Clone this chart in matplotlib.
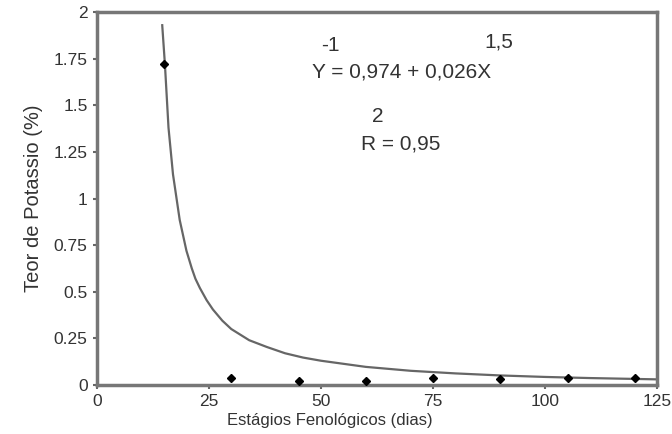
import matplotlib
matplotlib.use("Agg")
import matplotlib.pyplot as plt

# observed points
dias = [15, 30, 45, 60, 75, 90, 105, 120]
potassio = [1.72, 0.04, 0.02, 0.02, 0.035, 0.03, 0.035, 0.035]

# fitted curve
curva_x = [14.6, 15.2, 16, 17, 18.5, 20, 21.2, 22, 23, 24.5, 25.9, 28, 30, 34,
           37.9, 42, 46, 50, 60, 70, 80, 90, 100, 110, 125]
curva_y = [1.93, 1.72, 1.38, 1.13, 0.885, 0.72, 0.625, 0.57, 0.52, 0.455, 0.405,
           0.345, 0.30, 0.24, 0.204, 0.17, 0.147, 0.13, 0.097, 0.076, 0.062,
           0.051, 0.043, 0.037, 0.03]

x_ticks = [0, 25, 50, 75, 100, 125]
y_ticks = [0, 0.25, 0.5, 0.75, 1, 1.25, 1.5, 1.75, 2]
y_labels = ["0", "0.25", "0.5", "0.75", "1", "1.25", "1.5", "1.75", "2"]

plt.rcParams['font.family'] = ['Liberation Sans', 'DejaVu Sans']

fig = plt.figure(figsize=(6.72, 4.34), dpi=100)
ax = fig.add_axes([0.144, 0.113, 0.834, 0.859])

ax.plot(curva_x, curva_y, color="#666666", lw=1.6, zorder=2)
ax.plot(dias, potassio, "D", color="black", ms=4, zorder=3)

ax.set_xlim(0, 125)
ax.set_ylim(0, 2)
ax.set_xticks(x_ticks)
ax.set_yticks(y_ticks)
ax.set_yticklabels(y_labels)
ax.tick_params(colors="#666666", labelcolor="#333333", labelsize=12.5, width=1.5, length=3)

for s in ax.spines.values():
    s.set_color("#777777")
    s.set_linewidth(2.5)

ax.set_xlabel("Estágios Fenológicos (dias)", fontsize=12, color="#333333")
ax.xaxis.set_label_coords(0.416, -0.075)
ax.set_ylabel("Teor de Potassio (%)", fontsize=14.5, color="#333333", labelpad=8)

tc = "#333333"
fs = 15
ax.text(52, 1.82, "-1", fontsize=fs, color=tc, ha="center", va="center")
ax.text(48, 1.68, "Y = 0,974 + 0,026X", fontsize=fs, color=tc, ha="left", va="center")
ax.text(89.7, 1.84, "1,5", fontsize=fs, color=tc, ha="center", va="center")
ax.text(62.7, 1.44, "2", fontsize=fs, color=tc, ha="center", va="center")
ax.text(59, 1.29, "R = 0,95", fontsize=fs, color=tc, ha="left", va="center")

fig.savefig("out.png", dpi=100)
